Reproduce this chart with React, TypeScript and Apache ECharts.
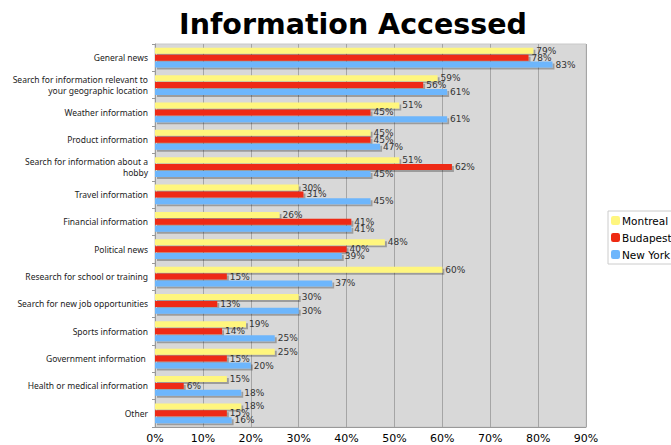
import React, { useEffect, useRef } from "react";
import * as echarts from "echarts";

const categories = [
  "General news",
  "Search for information relevant to\nyour geographic location",
  "Weather information",
  "Product information",
  "Search for information about a\nhobby",
  "Travel information",
  "Financial information",
  "Political news",
  "Research for school or training",
  "Search for new job opportunities",
  "Sports information",
  "Government information ",
  "Health or medical information",
  "Other",
];
const montreal = [79, 59, 51, 45, 51, 30, 26, 48, 60, 30, 19, 25, 15, 18];
const budapest = [78, 56, 45, 45, 62, 31, 41, 40, 15, 13, 14, 15, 6, 15];
const newYork = [83, 61, 61, 47, 45, 45, 41, 39, 37, 30, 25, 20, 18, 16];
const seriesNames = ["Montreal", "Budapest", "New York"];
const colors = ["#fff67e", "#ee2a12", "#6db6fc"];

export default function App() {
  const ref = useRef<HTMLDivElement>(null);
  useEffect(() => {
    const chart = echarts.init(ref.current!, null, { renderer: "svg" });
    const font = "DejaVu Sans, Verdana, sans-serif";
    const mk = (name: string, data: number[], color: string) => ({
      name,
      type: "bar",
      data,
      barWidth: 6,
      barGap: "15%",
      itemStyle: {
        color,
        shadowColor: "rgba(0,0,0,0.28)",
        shadowOffsetX: 2,
        shadowOffsetY: 2,
        shadowBlur: 0,
      },
      label: {
        show: true,
        position: "right",
        distance: 3,
        formatter: "{c}%",
        fontFamily: font,
        fontSize: 9,
        color: "#333",
      },
    });
    chart.setOption({
      animation: false,
      title: {
        text: "Information Accessed",
        left: 348,
        textAlign: "center",
        top: 5,
        textStyle: { fontFamily: font, fontWeight: "bold", fontSize: 28.5, color: "#000" },
      },
      legend: {
        orient: "vertical",
        left: 608,
        top: 211,
        itemWidth: 9,
        itemHeight: 9,
        itemGap: 6,
        padding: [4, 3, 4, 3],
        borderColor: "#ccc",
        borderWidth: 1,
        backgroundColor: "#fff",
        data: seriesNames,
        textStyle: { fontFamily: font, fontSize: 10.5, color: "#000", padding: [0, 0, 0, -3] },
      },
      grid: {
        left: 155,
        right: 85,
        top: 44,
        bottom: 18,
        outerBoundsMode: "none",
        containLabel: false,
        show: true,
        backgroundColor: "#d8d8d8",
        borderColor: "#c8c8c8",
        borderWidth: 1,
      },
      xAxis: {
        type: "value",
        min: 0,
        max: 90,
        interval: 10,
        axisLabel: {
          formatter: "{value}%",
          fontFamily: font,
          fontSize: 11,
          color: "#000",
          margin: 6,
        },
        axisLine: { show: true, lineStyle: { color: "#999" } },
        axisTick: { show: false },
        splitLine: { show: true, lineStyle: { color: "#a5a5a5", width: 1 } },
      },
      yAxis: {
        type: "category",
        inverse: true,
        data: categories,
        axisLabel: {
          fontFamily: "Noto Sans, DejaVu Sans, sans-serif",
          fontSize: 8.5,
          color: "#222",
          margin: 7,
          lineHeight: 11,
          align: "right",
        },
        axisLine: { show: true, lineStyle: { color: "#999" } },
        axisTick: { show: true, length: 3, lineStyle: { color: "#999" } },
      },
      series: [
        mk(seriesNames[0], montreal, colors[0]),
        mk(seriesNames[1], budapest, colors[1]),
        mk(seriesNames[2], newYork, colors[2]),
      ],
    });
    return () => chart.dispose();
  }, []);
  return <div ref={ref} style={{ width: 671, height: 445, position: "absolute", left: 0, top: 0, background: "#fff" }} />;
}
